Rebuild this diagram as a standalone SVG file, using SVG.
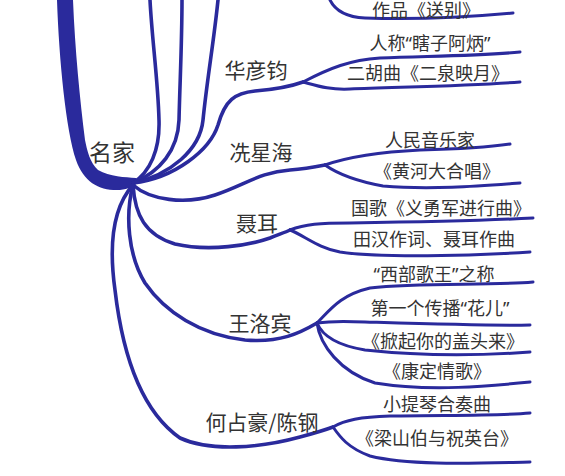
<svg xmlns="http://www.w3.org/2000/svg" width="565" height="476" viewBox="0 0 565 476">
<style>
.c{fill:none;stroke:#2a2a9c;stroke-width:3.6;stroke-linecap:round}
.l{fill:none;stroke:#2a2a9c;stroke-width:3;stroke-linecap:round}
text{font-family:"Noto Sans CJK SC","Noto Sans",sans-serif;fill:#333;text-anchor:middle}
.q{font-family:"Noto Sans",sans-serif}
.t{font-size:18px}
.m{font-size:21px}
.r{font-size:23px}
</style>
<rect width="565" height="476" fill="#fff"/>
<g id="connectors">
<path d="M57,0 C59,60 66,130 76,160 C84,183 100,191 120,190 C128,189 134,186 138,183 L136,178 C125,177 110,177 98,170 C90,163 87,150 85,140 C80,100 75,50 73,0 Z" fill="#2a2a9c"/>
<path class="c" d="M133,183 C150,172 160,150 159,120 C158,80 152,40 150,0"/>
<path class="c" d="M133,183 C160,172 178,150 179,120 C180,80 182,40 182,0"/>
<path class="c" d="M133,183 C170,175 200,150 203,120 C207,80 214,40 218,0"/>
<path class="c" d="M133,183 C175,178 210,150 218,125 C225,100 235,93 255,91 C280,89 292,86 303,82"/>
<path class="c" d="M133,185 C150,200 185,205 215,195 C245,185 260,172 290,170 C305,169 315,167 325,165"/>
<path class="c" d="M133,185 C135,215 145,235 175,244 C210,252 250,245 270,238 C280,234 286,232 290,230"/>
<path class="c" d="M133,185 C125,215 128,255 145,283 C165,312 200,335 245,340 C280,343 300,333 317,323"/>
<path class="c" d="M133,185 C115,205 108,240 115,290 C122,350 140,410 180,438 C210,452 260,448 300,437 C315,433 325,430 333,427"/>
<path class="l" d="M330,0 C335,10 345,17 365,18 C420,20 470,17 513,13"/>
<path class="l" d="M303,82 C330,68 350,60 380,58 C430,56 480,56 520,52"/>
<path class="l" d="M303,82 C318,86 330,90 350,89 C400,87 470,86 520,82"/>
<path class="l" d="M325,165 C345,158 380,152 420,150 C460,149 490,147 510,144"/>
<path class="l" d="M325,165 C335,172 350,180 383,186 C430,190 480,186 520,183"/>
<path class="l" d="M290,230 C305,224 320,223 350,223 C420,222 480,221 533,218"/>
<path class="l" d="M290,230 C305,236 318,248 340,252 C380,258 470,256 530,252"/>
<path class="l" d="M317,323 C330,310 340,295 370,288 C420,282 490,286 533,282"/>
<path class="l" d="M317,323 C330,321 345,321 365,322 C430,324 490,326 530,325"/>
<path class="l" d="M317,323 C322,335 335,345 365,350 C430,357 490,355 530,352"/>
<path class="l" d="M317,323 C320,345 340,372 375,383 C430,392 490,386 530,382"/>
<path class="l" d="M333,427 C345,420 360,417 390,416 C450,415 500,416 530,413"/>
<path class="l" d="M333,427 C340,437 348,448 370,456 C410,466 480,463 530,462"/>
</g>
<g id="root"><text class="r" x="112" y="161">名家</text></g>
<g id="hua"><text class="m" x="256" y="78">华彦钧</text></g>
<g id="xian"><text class="m" x="261" y="160">冼星海</text></g>
<g id="nie"><text class="m" x="257" y="231">聂耳</text></g>
<g id="wang"><text class="m" x="260" y="331">王洛宾</text></g>
<g id="he"><text class="m" x="262" y="430">何占豪/陈钢</text></g>
<g id="l1"><text class="t" x="426" y="17">作品《送别》</text></g>
<g id="l2"><text class="t" x="430" y="50">人称<tspan class="q">“</tspan>瞎子阿炳<tspan class="q">”</tspan></text></g>
<g id="l3"><text class="t" x="428" y="80">二胡曲《二泉映月》</text></g>
<g id="l4"><text class="t" x="430" y="147">人民音乐家</text></g>
<g id="l5"><text class="t" x="437" y="178">《黄河大合唱》</text></g>
<g id="l6"><text class="t" x="441" y="215">国歌《义勇军进行曲》</text></g>
<g id="l7"><text class="t" x="434" y="246">田汉作词、聂耳作曲</text></g>
<g id="l8"><text class="t" x="434" y="281"><tspan class="q">“</tspan>西部歌王<tspan class="q">”</tspan>之称</text></g>
<g id="l9"><text class="t" x="440" y="315">第一个传播<tspan class="q">“</tspan>花儿<tspan class="q">”</tspan></text></g>
<g id="l10"><text class="t" x="443" y="348">《掀起你的盖头来》</text></g>
<g id="l11"><text class="t" x="437" y="378">《康定情歌》</text></g>
<g id="l12"><text class="t" x="437" y="411">小提琴合奏曲</text></g>
<g id="l13"><text class="t" x="437" y="445">《梁山伯与祝英台》</text></g>
</svg>
